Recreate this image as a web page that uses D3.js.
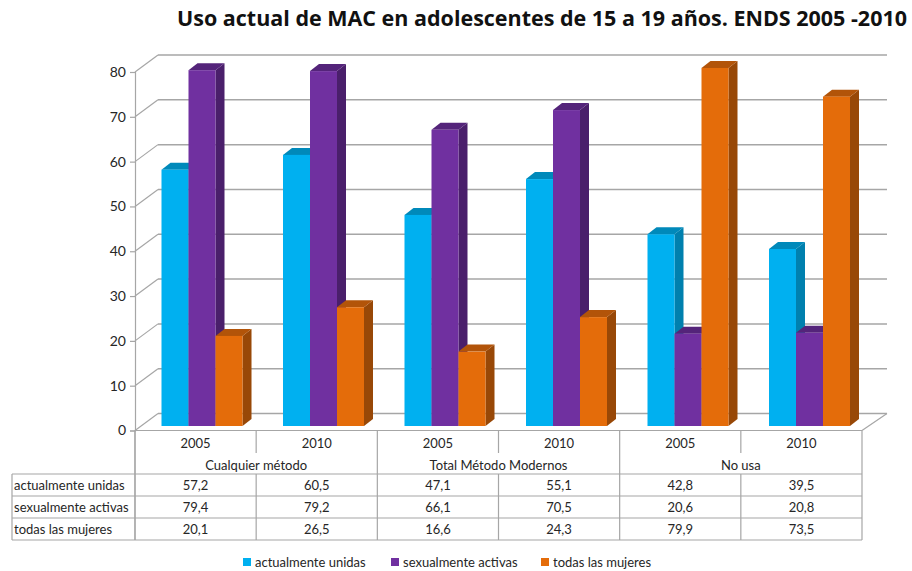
<!DOCTYPE html>
<html>

<head>
    <meta charset="utf-8">
    <script src="https://d3js.org/d3.v7.min.js"></script>
    <style>
        html, body { margin: 0; padding: 0; background: #fff; }
        svg { display: block; }
        text { font-family: Lato, "Noto Sans", sans-serif; fill: #262626; }
    </style>
</head>

<body>
    <svg width="912" height="571"></svg>
    <script>
var years = ["2005", "2010", "2005", "2010", "2005", "2010"];
var groups = ["Cualquier método", "Total Método Modernos", "No usa"];
var seriesNames = ["actualmente unidas", "sexualmente activas", "todas las mujeres"];
var unidas = [57.2, 60.5, 47.1, 55.1, 42.8, 39.5];
var activas = [79.4, 79.2, 66.1, 70.5, 20.6, 20.8];
var todas = [20.1, 26.5, 16.6, 24.3, 79.9, 73.5];
var yTicks = [0, 10, 20, 30, 40, 50, 60, 70, 80];
var front = ["#00b0f0", "#7030a0", "#e46c0a"];
var side = ["#0080ae", "#4a1f6b", "#984807"];
var top3d = ["#0089ba", "#54247a", "#b25409"];

var svg = d3.select("svg");
var seriesValues = [unidas, activas, todas];

var x0 = 135, x1 = 862, y0 = 430.5, wallDx = 23, wallDy = -17;
var tableLeft = 12;

var y = d3.scaleLinear().domain([0, 80]).range([y0, 72]);
var x = d3.scaleBand().domain(d3.range(years.length)).range([x0, x1]);
var xGroup = d3.scaleBand().domain(d3.range(groups.length)).range([x0, x1]);
// bars sit a little inside the 3d floor so their band is slightly wider than the table's
var xBars = d3.scaleBand().domain(d3.range(years.length)).range([x0, x1 + 2]);
var xSeries = d3.scaleBand().domain(d3.range(seriesNames.length)).range([0, 81]);

var grid = "#a6a6a6";

// back wall gridlines + floor/side diagonals
yTicks.forEach(function (t) {
    svg.append("line").attr("x1", x0 + wallDx).attr("x2", x1 + wallDx + 2)
        .attr("y1", y(t) + wallDy).attr("y2", y(t) + wallDy)
        .attr("stroke", grid).attr("stroke-width", 1.5);
    svg.append("line").attr("x1", x0).attr("x2", x0 + wallDx)
        .attr("y1", y(t)).attr("y2", y(t) + wallDy)
        .attr("stroke", grid).attr("stroke-width", 1.2);
});
svg.append("line").attr("x1", x1).attr("x2", x1 + wallDx + 2)
    .attr("y1", y0).attr("y2", y0 + wallDy)
    .attr("stroke", grid).attr("stroke-width", 1.2);

// y axis
var axis = svg.append("g").attr("transform", "translate(" + x0 + ",0)")
    .call(d3.axisLeft(y).tickValues(yTicks).tickSize(5).tickPadding(4));
axis.selectAll("path,line").attr("stroke", grid).attr("stroke-width", 1.2);
axis.selectAll("text").style("font-size", "14px").attr("fill", "#262626");

// bars, drawn group by group so that neighbours overlap properly
var depthX = 9, depthY = -7, barShiftX = 26.5, barShiftY = -4.5;
var barY = function (v) { return y(v) + barShiftY; };
var barBase = barY(0);
var barW = xSeries.bandwidth();

years.forEach(function (yr, i) {
    var g = svg.append("g").attr("class", "group");
    seriesValues.forEach(function (vals, s) {
        var left = xBars(i) + barShiftX + xSeries(s);
        var right = left + barW;
        var top = barY(vals[i]);
        g.append("path").attr("fill", side[s])
            .attr("d", d3.line()([[right, top], [right + depthX, top + depthY], [right + depthX, barBase + depthY], [right, barBase]]));
        g.append("path").attr("fill", top3d[s])
            .attr("d", d3.line()([[left, top], [left + depthX, top + depthY], [right + depthX, top + depthY], [right, top]]));
        g.append("rect").attr("x", left).attr("y", top)
            .attr("width", barW).attr("height", barBase - top).attr("fill", front[s]);
    });
});

// data table
var rowTop = 474, rowH = 22;
var rows = d3.scaleBand().domain(d3.range(seriesNames.length))
    .range([rowTop, rowTop + rowH * seriesNames.length]);
var tableBottom = rows.range()[1];
var line = function (a, b, c, d) {
    svg.append("line").attr("x1", a).attr("y1", b).attr("x2", c).attr("y2", d)
        .attr("stroke", grid).attr("stroke-width", 1.2);
};
line(x0, y0, x1, y0);
line(x0, y0, x0, tableBottom);
line(x1, y0, x1, tableBottom);
xGroup.domain().forEach(function (g) { line(xGroup(g), y0, xGroup(g), tableBottom); });
years.forEach(function (yr, i) {
    if (i % 2 == 1) {
        line(x(i), y0, x(i), 453);
        line(x(i), rowTop, x(i), tableBottom);
    }
});
rows.domain().forEach(function (r) { line(tableLeft, rows(r), x1, rows(r)); });
line(tableLeft, tableBottom, x1, tableBottom);
line(tableLeft, rowTop, tableLeft, tableBottom);

years.forEach(function (yr, i) {
    svg.append("text").attr("x", x(i) + x.bandwidth() / 2).attr("y", 448)
        .attr("text-anchor", "middle").style("font-size", "13px").text(yr);
});
groups.forEach(function (g, i) {
    svg.append("text").attr("x", xGroup(i) + xGroup.bandwidth() / 2).attr("y", 470)
        .attr("text-anchor", "middle").style("font-size", "13px").text(g);
});
seriesNames.forEach(function (name, s) {
    var base = rows(s) + rowH / 2 + 4.5;
    svg.append("text").attr("x", tableLeft + 2).attr("y", base)
        .style("font-size", "13px").text(name);
    seriesValues[s].forEach(function (v, i) {
        svg.append("text").attr("x", x(i) + x.bandwidth() / 2).attr("y", base)
            .attr("text-anchor", "middle").style("font-size", "13px")
            .text(String(v.toFixed(1)).replace(".", ","));
    });
});

// legend
var legendX = [243, 391, 541];
seriesNames.forEach(function (name, s) {
    svg.append("rect").attr("x", legendX[s]).attr("y", 558).attr("width", 8).attr("height", 8).attr("fill", front[s]);
    svg.append("text").attr("x", legendX[s] + 12).attr("y", 566.5)
        .style("font-size", "13px").text(name);
});

// title, font hinting jumps between sizes so pin the width
svg.append("text").attr("x", 177).attr("y", 26)
    .attr("textLength", 730).attr("lengthAdjust", "spacing")
    .style("font-family", "'Open Sans', sans-serif").style("font-weight", "bold")
    .style("font-size", "21.5px").style("fill", "#111")
    .text("Uso actual de MAC en adolescentes de 15 a 19 años. ENDS 2005 -2010");
    </script>
</body>

</html>
